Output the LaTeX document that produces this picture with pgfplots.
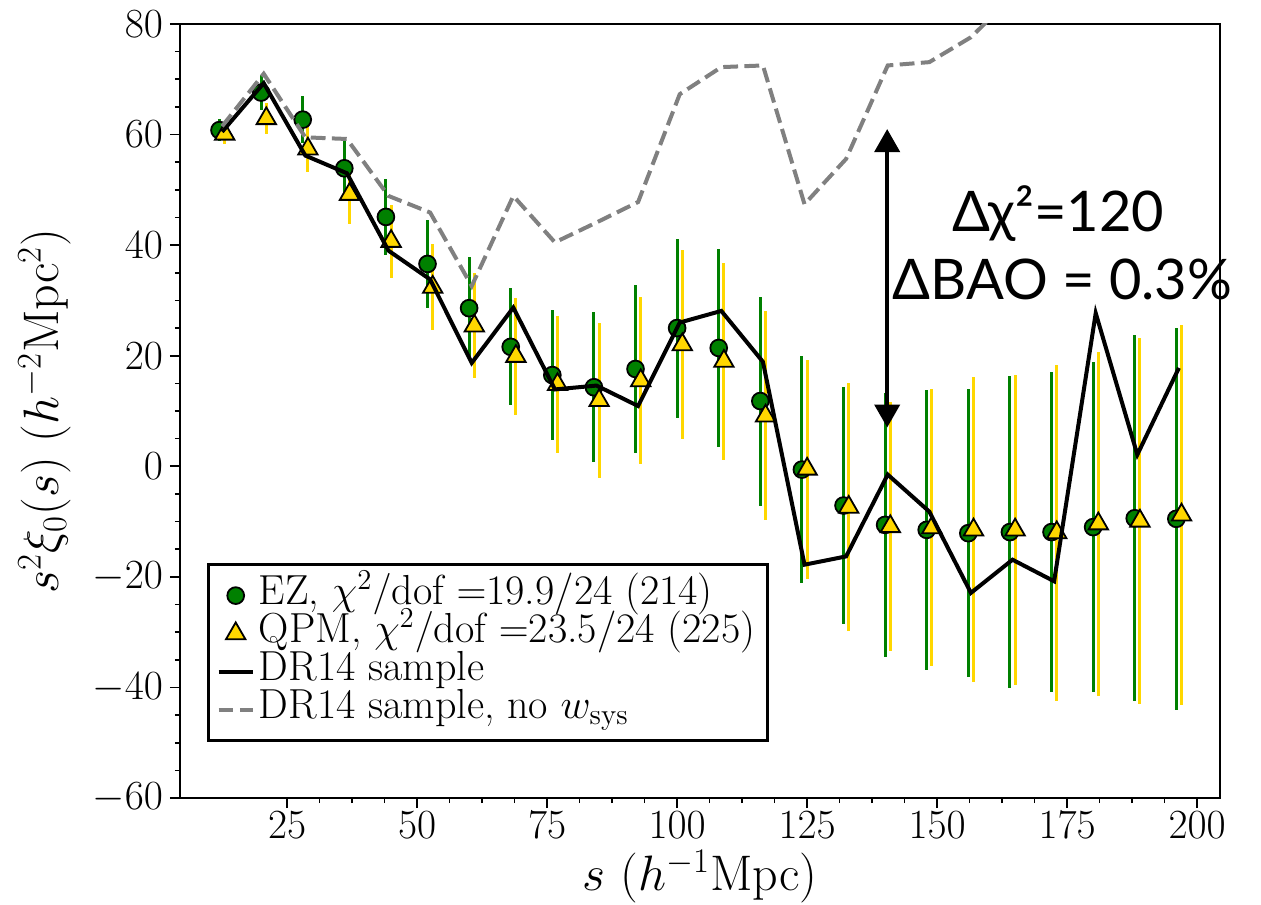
\documentclass[border=0pt]{standalone}
\usepackage{fontspec}
\usepackage{pgfplots}
\usepackage{pgfplotstable}
\pgfplotsset{compat=1.18}
\usetikzlibrary{arrows.meta}
\newfontfamily\annfont{Lato}

\definecolor{ezgreen}{HTML}{008000}
\definecolor{qpmgold}{HTML}{FFD700}
\definecolor{nosysgray}{HTML}{808080}

% EZ mocks: mean and scatter of s^2 xi_0
\pgfplotstableread{
s   xi     err
12  60.8   2.0
20  67.6   3.2
28  62.7   4.3
36  53.9   5.1
44  45.1   6.8
52  36.6   7.9
60  28.6   9.3
68  21.6   10.6
76  16.5   11.7
84  14.3   13.6
92  17.6   15.2
100 25.0   16.2
108 21.4   17.9
116 11.8   18.9
124 -0.6   20.5
132 -7.1   21.5
140 -10.6  23.9
148 -11.5  25.3
156 -12.1  26.1
164 -11.9  28.2
172 -11.9  29.0
180 -11.0  29.9
188 -9.4   33.1
196 -9.5   34.5
}\ezdata

% QPM mocks, shifted by 1 in s for visibility
\pgfplotstableread{
s   xi     err
13  60.1   1.8
21  62.9   2.8
29  57.4   4.2
37  49.2   5.4
45  40.7   6.6
53  32.4   7.8
61  25.4   9.5
69  19.9   10.6
77  14.8   12.4
85  11.9   14.1
93  15.5   15.1
101 22.0   17.1
109 19.0   17.8
117 9.1    18.9
125 -0.5   19.8
133 -7.4   22.4
141 -10.9  22.6
149 -11.1  25.0
157 -11.5  27.6
165 -11.5  28.0
173 -12.0  30.4
181 -10.4  31.1
189 -9.9   33.1
197 -8.8   34.3
}\qpmdata

% DR14 sample, with and without systematic weights
\pgfplotstableread{
s     xi     xinosys
12.5  60.5   61.5
20.5  69.3   71.0
28.5  56.2   59.5
36.5  53.0   59.2
44.5  39.0   48.9
52.5  33.8   45.9
60.5  18.7   32.6
68.5  28.7   48.9
76.5  13.9   40.5
84.5  14.6   44.1
92.5  10.9   47.8
100.5 26.0   67.3
108.5 28.1   72.2
116.5 18.9   72.5
124.5 -17.8  47.4
132.5 -16.3  55.6
140.5 -1.5   72.5
148.5 -8.2   73.1
156.5 -22.9  77.6
164.5 -16.9  85.0
172.5 -20.8  nan
180.5 27.7   nan
188.5 2.1    nan
196.5 17.8   nan
}\drdata

\begin{document}
\begin{tikzpicture}[x=1pt,y=1pt]
\useasboundingbox (-90,-53) rectangle (540.5,399);
\begin{axis}[
  at={(0,0)}, anchor=south west, scale only axis,
  width=520pt, height=387pt,
  xmin=4.4, xmax=204.4, ymin=-60, ymax=80,
  xtick={25,50,...,200}, ytick={-60,-40,...,80},
  minor x tick num=3, minor y tick num=3,
  xtick pos=lower, ytick pos=left,
  tick align=outside,
  major tick length=5pt, minor tick length=2.5pt,
  every tick/.style={black, line width=0.8pt},
  axis line style={line width=1pt},
  tick label style={font=\fontsize{19.5}{22}\selectfont},
  xticklabel style={yshift=1.5pt},
  label style={font=\fontsize{25}{28}\selectfont},
  xlabel={$s$ ($h^{-1}$Mpc)},
  ylabel={$s^2\xi_0(s)$ ($h^{-2}$Mpc$^2$)},
  xlabel style={at={(axis description cs:0.5,-0.119)}, anchor=base},
  ylabel style={at={(axis description cs:-0.13,0.5)}, anchor=center},
  clip mode=individual,
  unbounded coords=jump,
  legend cell align=left,
  legend style={
    at={(0.026,0.3036)}, anchor=north west,
    draw=black, line width=1.6pt,
    font=\fontsize{21}{19}\selectfont,
    inner xsep=4pt, inner ysep=6pt,
    row sep=0pt,
    nodes={inner ysep=0.25pt, inner xsep=2pt, text height=13.8pt, text depth=4.7pt},
  },
]
% error bars first, markers on top
\addplot[only marks, mark=none, forget plot,
  error bars/.cd, y dir=both, y explicit, error mark=none,
  error bar style={draw=ezgreen, line width=1.5pt}]
  table[x=s, y=xi, y error=err]{\ezdata};
\addplot[only marks, mark=none, forget plot,
  error bars/.cd, y dir=both, y explicit, error mark=none,
  error bar style={draw=qpmgold, line width=1.5pt}]
  table[x=s, y=xi, y error=err]{\qpmdata};

\addplot[only marks, mark=*, mark size=4.2pt,
  mark options={fill=ezgreen, draw=black, line width=0.9pt}]
  table[x=s, y=xi]{\ezdata};
\addlegendentry{EZ, $\chi^2/$dof $=$19.9/24 (214)}

\addplot[only marks, mark=triangle*, mark size=5.6pt,
  mark options={fill=qpmgold, draw=black, line width=0.9pt}]
  table[x=s, y=xi]{\qpmdata};
\addlegendentry{QPM, $\chi^2/$dof $=$23.5/24 (225)}

\addplot[black, line width=2pt, mark=none]
  table[x=s, y=xi]{\drdata};
\addlegendentry{DR14 sample}

\addplot[nosysgray, line width=2pt, mark=none, dash pattern=on 7.4pt off 3.2pt]
  table[x=s, y=xinosys]{\drdata};
\addlegendentry{DR14 sample, no $w_{\rm sys}$}

\draw[line width=2pt,
  {Triangle[width=12.5pt,length=11.5pt]}-{Triangle[width=12.5pt,length=11.5pt]}]
  (axis cs:140.4,61.0) -- (axis cs:140.4,7.0);

\node[anchor=base, font=\annfont\fontsize{28}{30}\selectfont]
  at (axis cs:173.3,42.5) {Δχ²=120};
\node[anchor=base, font=\annfont\fontsize{28}{30}\selectfont]
  at (axis cs:174.1,30.2) {ΔBAO = 0.3\%};
\end{axis}
\end{tikzpicture}
\end{document}
